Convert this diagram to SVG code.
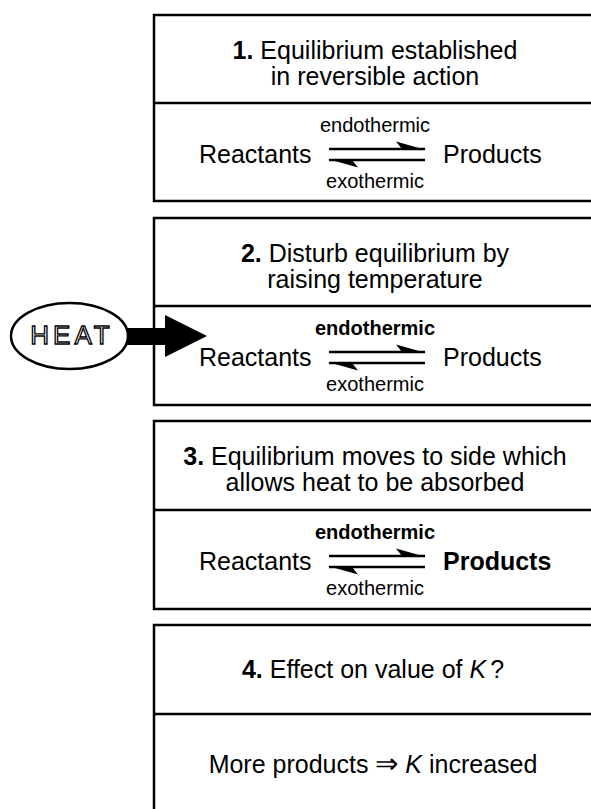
<svg xmlns="http://www.w3.org/2000/svg" width="591" height="809" viewBox="0 0 591 809">
  <style>
    .box { fill: #fff; stroke: #000; stroke-width: 2.5; }
    .div { stroke: #000; stroke-width: 2.5; }
    .t { font-family: "Liberation Sans", Arial, sans-serif; font-size: 25px; fill: #000; }
    .s { font-family: "Liberation Sans", Arial, sans-serif; font-size: 20px; fill: #000; }
    .c { text-anchor: middle; }
    .b { font-weight: bold; }
    .i { font-style: italic; }
    .eqline { stroke: #000; stroke-width: 2.6; fill: none; }
  </style>
  <defs>
    <!-- equilibrium double harpoon, centred on its own origin -->
    <g id="harpoons">
      <line class="eqline" x1="-48" y1="-6" x2="48" y2="-6"/>
      <polygon points="49,-5 19,-13.5 25,-6"/>
      <line class="eqline" x1="-48" y1="5" x2="48" y2="5"/>
      <polygon points="-49,4 -19,12.5 -25,5"/>
    </g>
  </defs>

  <g id="step1">
    <rect class="box" x="154" y="15" width="460" height="186"/>
    <line class="div" x1="154" y1="103" x2="614" y2="103"/>
    <text class="t c" x="375" y="59"><tspan class="b">1.</tspan> Equilibrium established</text>
    <text class="t c" x="375" y="85">in reversible action</text>
    <text class="s c" x="375" y="132">endothermic</text>
    <text class="t" x="199" y="163">Reactants</text>
    <use href="#harpoons" x="377" y="155"/>
    <text class="t" x="443" y="163">Products</text>
    <text class="s c" x="375" y="188">exothermic</text>
  </g>

  <g id="step2">
    <rect class="box" x="154" y="218" width="460" height="187"/>
    <line class="div" x1="154" y1="306" x2="614" y2="306"/>
    <text class="t c" x="375" y="262"><tspan class="b">2.</tspan> Disturb equilibrium by</text>
    <text class="t c" x="375" y="288">raising temperature</text>
    <text class="s c b" x="375" y="335">endothermic</text>
    <text class="t" x="199" y="366">Reactants</text>
    <use href="#harpoons" x="377" y="358"/>
    <text class="t" x="443" y="366">Products</text>
    <text class="s c" x="375" y="391">exothermic</text>
  </g>

  <g id="step3">
    <rect class="box" x="154" y="421" width="460" height="188"/>
    <line class="div" x1="154" y1="510" x2="614" y2="510"/>
    <text class="t c" x="375" y="465"><tspan class="b">3.</tspan> Equilibrium moves to side which</text>
    <text class="t c" x="375" y="491">allows heat to be absorbed</text>
    <text class="s c b" x="375" y="539">endothermic</text>
    <text class="t" x="199" y="570">Reactants</text>
    <use href="#harpoons" x="377" y="562"/>
    <text class="t b" x="443" y="570">Products</text>
    <text class="s c" x="375" y="595">exothermic</text>
  </g>

  <g id="step4">
    <rect class="box" x="154" y="625" width="460" height="220"/>
    <line class="div" x1="154" y1="714" x2="614" y2="714"/>
    <text class="t c" x="373" y="678"><tspan class="b">4.</tspan> Effect on value of <tspan class="i">K</tspan><tspan dx="4">?</tspan></text>
    <text class="t c" x="373" y="773">More products <tspan font-size="28">⇒</tspan> <tspan class="i">K</tspan> increased</text>
  </g>

  <g id="connectors">
    <!-- heavy arrow from the heat source into step 2 -->
    <rect x="124" y="328" width="43" height="17" fill="#000"/>
    <polygon points="165,315 207,336 165,357" fill="#000"/>
  </g>

  <g id="heat">
    <ellipse cx="69.5" cy="336" rx="58.5" ry="33" fill="#fff" stroke="#000" stroke-width="2.5"/>
    <text x="72" y="344" text-anchor="middle" font-family="Liberation Sans, Arial, sans-serif" font-size="26" letter-spacing="4" fill="#fff" stroke="#000" stroke-width="1.3">HEAT</text>
  </g>
</svg>
